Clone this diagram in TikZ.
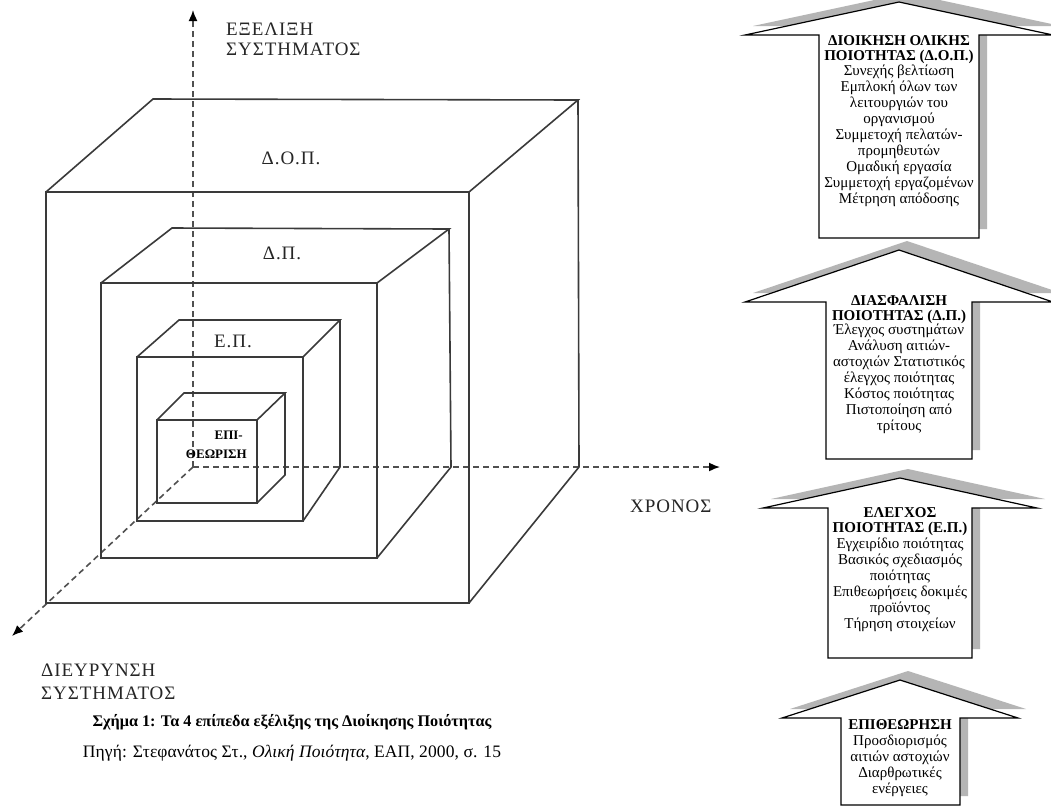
\documentclass[tikz,border=0pt]{standalone}
\usepackage{fontspec}
\setmainfont{Liberation Serif}
\newfontfamily\widefont[LetterSpace=5]{Liberation Serif}
\newfontfamily\srcfont[LetterSpace=0.6]{Liberation Serif}
\usetikzlibrary{arrows.meta}
\definecolor{linegray}{HTML}{3A3A3A}
\definecolor{shadowgray}{HTML}{B5B5B5}
\definecolor{axisgray}{HTML}{505050}
\tikzset{
  cubeline/.style={draw=linegray, line width=1.6pt, line join=miter},
  axisline/.style={draw=axisgray, line width=1.6pt, dash pattern=on 6pt off 4pt, -{Latex[length=11pt,width=9pt,color=black]}},
  axislabel/.style={font=\widefont\fontsize{19}{20}\selectfont, inner sep=0pt, text=black!85},
  cubelabel/.style={font=\widefont\fontsize{19}{20}\selectfont, inner sep=0pt, anchor=base, text=black!85},
  smalllabel/.style={font=\fontsize{13}{15}\selectfont\bfseries, inner sep=0pt, anchor=base east},
  arrowbody/.style={draw=black, line width=1.2pt, fill=white, line join=miter},
  arrowshadow/.style={fill=shadowgray},
  boxtitle/.style={font=\fontsize{15}{16}\selectfont\bfseries, inner sep=0pt, anchor=base},
  boxbody/.style={font=\fontsize{15}{16}\selectfont, inner sep=0pt, anchor=base},
  captitle/.style={font=\fontsize{16.2}{18}\selectfont\bfseries, inner sep=0pt, anchor=base},
  capsource/.style={font=\srcfont\fontsize{17.5}{20}\selectfont, inner sep=0pt, anchor=base},
}
% #1 tipL x, #2 boxL, #3 boxR, #4 tipR x, #5 top y, #6 apex x, #7 apex y, #8 bottom y
\newcommand{\qarrow}[8]{%
  \fill[arrowshadow, shift={(8,-9)}] (#1,#5) -- (#6,#7) -- (#4,#5) -- (#3,#5) -- (#3,#8) -- (#2,#8) -- (#2,#5) -- cycle;
  \draw[arrowbody] (#1,#5) -- (#6,#7) -- (#4,#5) -- (#3,#5) -- (#3,#8) -- (#2,#8) -- (#2,#5) -- cycle;
}
\begin{document}
\begin{tikzpicture}[x=1pt,y=-1pt]
\useasboundingbox (0,0) rectangle (1051,807);
\clip (0,0) rectangle (1051,807);
\fill[white] (0,0) rectangle (1051,807);

% axes
\coordinate (O) at (193,467);
\coordinate (Ytip) at (193,10);
\coordinate (Xtip) at (720,467);
\coordinate (Ztip) at (12,636);
\draw[axisline] (O) -- (Ytip);
\draw[axisline] (O) -- (Xtip);
\draw[axisline] (O) -- (Ztip);

% outer cube (D.O.P.)
\draw[cubeline] (46,192) rectangle (469,603);
\draw[cubeline] (46,192) -- (153,99) -- (578,100) -- (469,192);
\draw[cubeline] (578,100) -- (579,467) -- (469,603);
% D.P. cube
\draw[cubeline] (101,283) rectangle (377,558);
\draw[cubeline] (101,283) -- (172,228) -- (449,229) -- (377,283);
\draw[cubeline] (449,229) -- (451,467) -- (377,558);
% E.P. cube
\draw[cubeline] (137,357) rectangle (303,521);
\draw[cubeline] (137,357) -- (179,320) -- (340,320) -- (303,357);
\draw[cubeline] (340,320) -- (340,467) -- (303,521);
% inspection cube
\draw[cubeline] (157,420) rectangle (257,503);
\draw[cubeline] (157,420) -- (184,393) -- (285,393) -- (257,420);
\draw[cubeline] (285,393) -- (285,475) -- (257,503);

% cube labels
\node[cubelabel] (ldop) at (291,164) {Δ.Ο.Π.};
\node[cubelabel] (ldp) at (282,259) {Δ.Π.};
\node[cubelabel] (lep) at (233,347) {Ε.Π.};
\node[smalllabel] (lepi1) at (243,439) {ΕΠΙ-};
\node[smalllabel] (lepi2) at (247,458) {ΘΕΩΡΙΣΗ};

% axis labels
\node[axislabel, anchor=base west] (ly1) at (226,35) {ΕΞΕΛΙΞΗ};
\node[axislabel, anchor=base west] (ly2) at (226,55) {ΣΥΣΤΗΜΑΤΟΣ};
\node[axislabel, anchor=base west] (lx) at (630,512) {ΧΡΟΝΟΣ};
\node[axislabel, anchor=base west] (lz1) at (41,676) {ΔΙΕΥΡΥΝΣΗ};
\node[axislabel, anchor=base west] (lz2) at (41,699) {ΣΥΣΤΗΜΑΤΟΣ};

% caption
\node[captitle] (cap1) at (292,726) {Σχήμα 1: Τα 4 επίπεδα εξέλιξης της Διοίκησης Ποιότητας};
\node[capsource] (cap2) at (292,757) {Πηγή: Στεφανάτος Στ., \textit{Ολική Ποιότητα}, ΕΑΠ, 2000, σ. 15};

% right arrows
\qarrow{745}{819}{979}{1053}{35}{899}{2}{238}
\qarrow{745}{826}{972}{1053}{302}{899}{250}{459}
\qarrow{763}{828}{972}{1037}{508}{900}{478}{658}
\qarrow{782}{841}{960}{1018}{718}{900}{680}{805}

% arrow 1 text
\node[boxtitle] (a1t1) at (899,45) {ΔΙΟΙΚΗΣΗ ΟΛΙΚΗΣ};
\node[boxtitle] (a1t2) at (899,60) {ΠΟΙΟΤΗΤΑΣ (Δ.Ο.Π.)};
\foreach [count=\i] \t in {Συνεχής βελτίωση, Εμπλοκή όλων των, λειτουργιών του, οργανισμού, Συμμετοχή πελατών-, προμηθευτών, Ομαδική εργασία, Συμμετοχή εργαζομένων, Μέτρηση απόδοσης}
  \node[boxbody] (a1b\i) at (899,59+16*\i) {\t};

% arrow 2 text
\node[boxtitle] (a2t1) at (899,305) {ΔΙΑΣΦΑΛΙΣΗ};
\node[boxtitle] (a2t2) at (899,320) {ΠΟΙΟΤΗΤΑΣ (Δ.Π.)};
\foreach [count=\i] \t in {Έλεγχος συστημάτων, Ανάλυση αιτιών-, αστοχιών Στατιστικός, έλεγχος ποιότητας, Κόστος ποιότητας, Πιστοποίηση από, τρίτους}
  \node[boxbody] (a2b\i) at (899,318+16*\i) {\t};

% arrow 3 text
\node[boxtitle] (a3t1) at (900,517) {ΕΛΕΓΧΟΣ};
\node[boxtitle] (a3t2) at (900,532) {ΠΟΙΟΤΗΤΑΣ (Ε.Π.)};
\foreach [count=\i] \t in {Εγχειρίδιο ποιότητας, Βασικός σχεδιασμός, ποιότητας, Επιθεωρήσεις δοκιμές, προϊόντος, Τήρηση στοιχείων}
  \node[boxbody] (a3b\i) at (900,532+16*\i) {\t};

% arrow 4 text
\node[boxtitle] (a4t1) at (900,729) {ΕΠΙΘΕΩΡΗΣΗ};
\foreach [count=\i] \t in {Προσδιορισμός, αιτιών αστοχιών, Διαρθρωτικές, ενέργειες}
  \node[boxbody] (a4b\i) at (900,729+16*\i) {\t};
\end{tikzpicture}
\end{document}
